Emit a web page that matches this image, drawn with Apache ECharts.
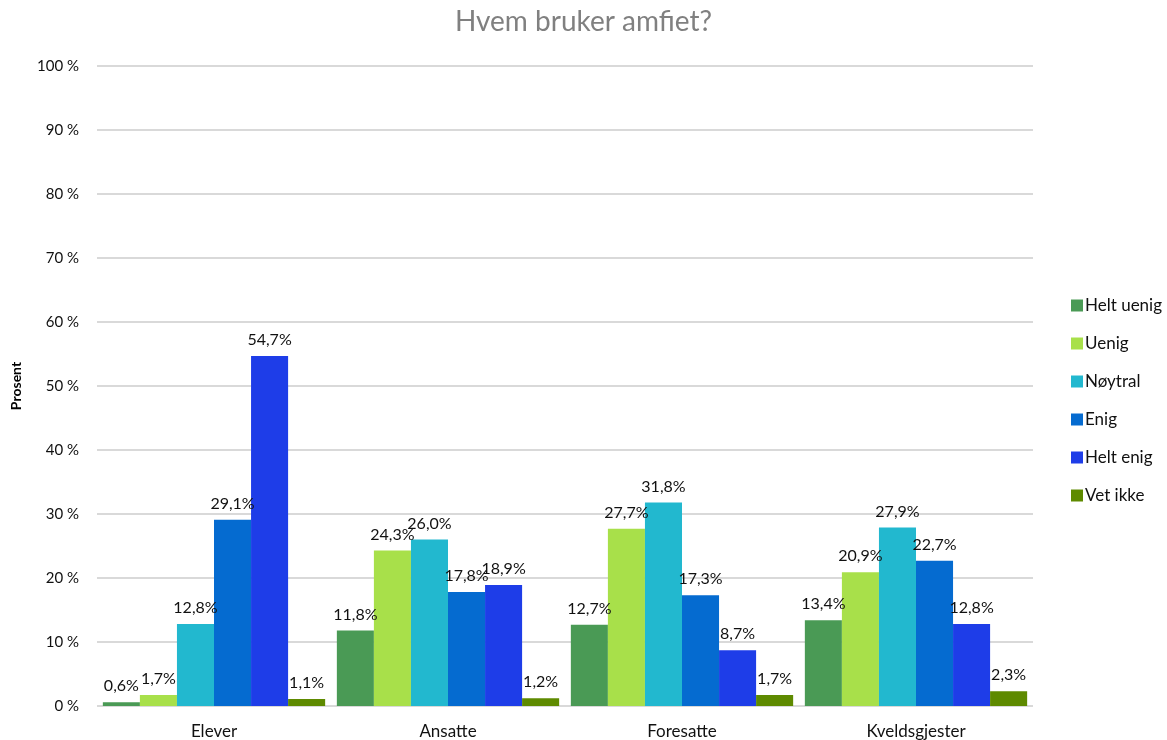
<!DOCTYPE html>
<html>
<head>
<meta charset="utf-8">
<script src="https://cdn.jsdelivr.net/npm/echarts@6/dist/echarts.min.js"></script>
<style>
  html, body { margin: 0; padding: 0; background: #fff; }
  #chart { width: 1167px; height: 740px; }
</style>
</head>
<body>
<div id="chart"></div>
<script>
var categories = ['Elever', 'Ansatte', 'Foresatte', 'Kveldsgjester'];
var seriesNames = ['Helt uenig', 'Uenig', 'Nøytral', 'Enig', 'Helt enig', 'Vet ikke'];
var heltUenig = [0.6, 11.8, 12.7, 13.4];
var uenig = [1.7, 24.3, 27.7, 20.9];
var noytral = [12.8, 26.0, 31.8, 27.9];
var enig = [29.1, 17.8, 17.3, 22.7];
var heltEnig = [54.7, 18.9, 8.7, 12.8];
var vetIkke = [1.1, 1.2, 1.7, 2.3];
var colors = ['#4a9a55', '#a8e04a', '#22b8cf', '#056bd0', '#1e3de8', '#5e8a00'];

var font = 'Lato, "Open Sans", sans-serif';
var values = [heltUenig, uenig, noytral, enig, heltEnig, vetIkke];

var chart = echarts.init(document.getElementById('chart'), null, { renderer: 'canvas' });

chart.setOption({
  animation: false,
  backgroundColor: '#fff',
  textStyle: { fontFamily: font },
  title: {
    text: 'Hvem bruker amfiet?',
    left: 'center',
    top: 3,
    textStyle: { color: '#808080', fontSize: 28, fontWeight: 'normal', fontFamily: font }
  },
  legend: {
    orient: 'vertical',
    left: 1066,
    top: 292,
    itemWidth: 12,
    itemHeight: 12,
    itemGap: 21,
    icon: 'rect',
    data: seriesNames,
    textStyle: { color: '#111', fontSize: 17, fontFamily: font, padding: [0, 0, 0, -3] }
  },
  grid: { left: 97, right: 134, top: 66, bottom: 34, containLabel: false },
  xAxis: {
    type: 'category',
    data: categories,
    axisLine: { show: false },
    axisTick: { show: false },
    axisLabel: { color: '#111', fontSize: 17, margin: 17, fontFamily: font }
  },
  yAxis: {
    type: 'value',
    min: 0,
    max: 100,
    interval: 10,
    name: 'Prosent',
    nameLocation: 'middle',
    nameGap: 74,
    nameTextStyle: { color: '#000', fontSize: 14, fontWeight: 'bold', fontFamily: font },
    axisLine: { show: false },
    axisTick: { show: false },
    axisLabel: {
      color: '#111', fontSize: 15, margin: 18, fontFamily: font,
      formatter: function (v) { return v + ' %'; }
    },
    splitLine: { lineStyle: { color: '#d9d9d9', width: 2 } }
  },
  series: seriesNames.map(function (name, i) {
    return {
      name: name,
      type: 'bar',
      data: values[i],
      barGap: '0%',
      barCategoryGap: '5%',
      itemStyle: { color: colors[i] },
      label: {
        show: true,
        position: 'top',
        distance: 8,
        color: '#111',
        fontSize: 16,
        fontFamily: font,
        formatter: function (p) { return p.value.toFixed(1).replace('.', ',') + '%'; }
      }
    };
  })
});
</script>
</body>
</html>
